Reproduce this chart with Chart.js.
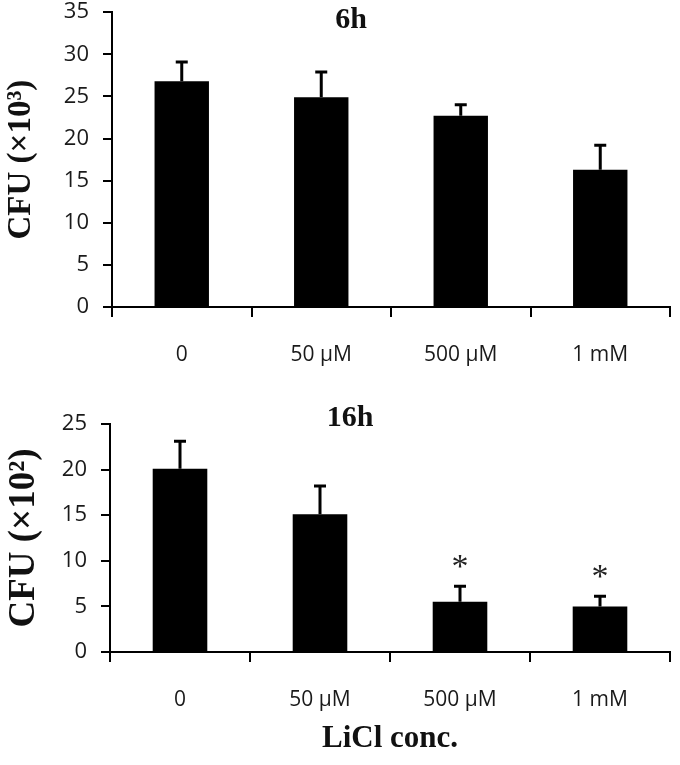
<!DOCTYPE html>
<html>
<head>
<meta charset="utf-8" />
<script src="https://cdn.jsdelivr.net/npm/chart.js@4.4.1/dist/chart.umd.min.js"></script>
<style>
  body { margin: 0; background: #fff; overflow: hidden; }
  .panel { position: relative; width: 680px; }
</style>
</head>
<body>
<div class="panel" style="height:400px; margin-top:-15px"><canvas id="cfu6"></canvas></div>
<div class="panel" style="height:380px"><canvas id="cfu16"></canvas></div>

<script>
  // LiCl concentrations
  const labels = ["0", "50 µM", "500 µM", "1 mM"];

  // 6h, CFU x10^3
  const cfu6 = [26.8, 24.9, 22.7, 16.3];
  const err6 = [2.3, 3.0, 1.3, 2.9];
  const yMax6 = 35;

  // 16h, CFU x10^2
  const cfu16 = [20.1, 15.1, 5.5, 5.0];
  const err16 = [3.0, 3.1, 1.7, 1.1];
  const stars16 = ["", "", "*", "*"];
  const yMax16 = 25;

  const yStep = 5;

  // error bar (upper only) + significance star
  const errorBars = {
    id: "errorBars",
    afterDatasetsDraw(chart) {
      const ctx = chart.ctx;
      const y = chart.scales.y;
      chart.data.datasets.forEach((ds, i) => {
        chart.getDatasetMeta(i).data.forEach((bar, j) => {
          const top = y.getPixelForValue(ds.data[j] + ds.errors[j]);
          ctx.save();
          ctx.strokeStyle = "#000";
          ctx.lineWidth = 3;
          ctx.beginPath();
          ctx.moveTo(bar.x, bar.y);
          ctx.lineTo(bar.x, top);
          ctx.moveTo(bar.x - 6, top);
          ctx.lineTo(bar.x + 6, top);
          ctx.stroke();
          if (ds.stars && ds.stars[j]) {
            ctx.fillStyle = "#222";
            ctx.font = "34px 'Liberation Serif'";
            ctx.textAlign = "center";
            ctx.textBaseline = "alphabetic";
            ctx.fillText(ds.stars[j], bar.x, top - 9);
          }
          ctx.restore();
        });
      });
    },
  };

  const panelTitle = {
    id: "panelTitle",
    afterDraw(chart, args, opts) {
      const ctx = chart.ctx;
      const a = chart.chartArea;
      ctx.save();
      ctx.fillStyle = "#111";
      ctx.font = "bold 30px 'Liberation Serif'";
      ctx.textAlign = "center";
      ctx.textBaseline = "middle";
      ctx.fillText(opts.text, (a.left + a.right) / 2 + opts.dx, a.top + opts.dy);
      ctx.restore();
    },
  };

  function makeChart(id, values, errors, stars, yMax, yTitle, title, cfg) {
    return new Chart(document.getElementById(id), {
      type: "bar",
      data: {
        labels: labels,
        datasets: [
          {
            data: values,
            errors: errors,
            stars: stars,
            backgroundColor: "#000",
            borderWidth: 0,
            barPercentage: 0.39,
            categoryPercentage: 1,
          },
        ],
      },
      options: {
        responsive: true,
        maintainAspectRatio: false,
        animation: false,
        layout: { padding: { top: cfg.padTop, right: 10, left: 0, bottom: 0 } },
        plugins: {
          legend: { display: false },
          tooltip: { enabled: false },
          panelTitle: { text: title, dx: -40, dy: cfg.titleDy },
        },
        scales: {
          x: {
            afterFit: (s) => { s.height = cfg.xHeight; },
            border: { color: "#000", width: 2 },
            grid: { drawOnChartArea: false, color: "#000", lineWidth: 2, tickLength: 10 },
            ticks: { color: "#1a1a1a", font: { family: "'Open Sans'", size: 21 }, padding: 25 },
            title: cfg.xTitle
              ? {
                  display: true,
                  text: cfg.xTitle,
                  color: "#111",
                  font: { family: "'Liberation Serif'", size: 31, weight: "bold" },
                  padding: { top: 0, bottom: 7 },
                }
              : { display: false },
          },
          y: {
            min: 0,
            max: yMax,
            afterFit: (s) => { s.width = cfg.yWidth; },
            border: { color: "#000", width: 2 },
            grid: { drawOnChartArea: false, color: "#000", lineWidth: 2, tickLength: 9 },
            ticks: { stepSize: yStep, color: "#1a1a1a", font: { family: "'Open Sans'", size: 22 }, padding: 14 },
            title: {
              display: true,
              text: yTitle,
              color: "#111",
              font: { family: "'Liberation Serif'", size: cfg.yTitleSize, weight: "bold" },
              padding: { top: 2, bottom: 0 },
            },
          },
        },
      },
      plugins: [errorBars, panelTitle],
    });
  }

  makeChart("cfu6", cfu6, err6, null, yMax6, "CFU (×10³)", "6h",
    { padTop: 12, xHeight: 78, yWidth: 112, titleDy: 8, yTitleSize: 33 });
  makeChart("cfu16", cfu16, err16, stars16, yMax16, "CFU (×10²)", "16h",
    { padTop: 39, xHeight: 113, yWidth: 110, titleDy: -6, yTitleSize: 37, xTitle: "LiCl conc." });
</script>
</body>
</html>
